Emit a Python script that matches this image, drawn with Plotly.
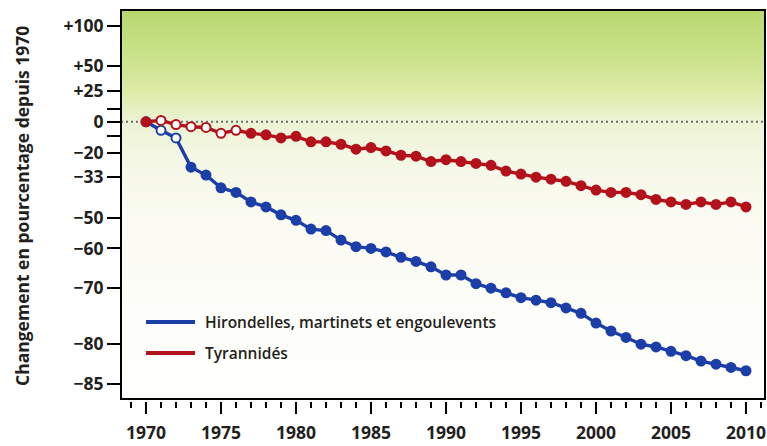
import math

import plotly.graph_objects as go

years = list(range(1970, 2011))

# percent change since 1970
hirondelles = [
    0, -6, -11, -28, -32, -38, -40, -44, -46, -49,
    -51, -54, -54.5, -57.5, -59.5, -60, -61, -62.5, -63.6, -65,
    -67, -67, -69, -70, -71, -72, -72.5, -73, -74, -75,
    -76.7, -78, -79, -80, -80.4, -81, -81.6, -82.3, -82.7, -83.1,
    -83.5,
]
tyrannides = [
    0, 1, -2, -3.5, -4, -8, -6, -8, -9, -11,
    -10, -13.5, -13.5, -15, -18, -17, -19, -21.5, -22, -25,
    -24, -25, -26, -27, -30, -31.5, -33, -34, -35, -37,
    -39, -40, -40, -41, -43, -44, -45, -44, -45, -44,
    -46,
]
# estimates before 1977 (open circles in the source)
hirondelles_open = [1971, 1972]
tyrannides_open = [1971, 1972, 1973, 1974, 1975, 1976]

tick_pct = [100, 50, 25, 10, 0, -10, -20, -33, -50, -60, -70, -80, -85]
tick_text = ["+100", "+50", "+25", "", "0", "", "−20", "−33", "−50", "−60", "−70", "−80", "−85"]

BLUE = "#1b3ea8"
RED = "#b3111b"
INK = "#231f20"
FONT = "Open Sans"

W, H = 767, 446
ML, MR, MT, MB = 121, 2, 10, 40
PW, PH = W - ML - MR, H - MT - MB
FRAME_BOTTOM = 399  # px


def ratio(p):
    return 1 + p / 100


def px_x(px):
    return (px - ML) / PW


def px_y(py):
    return (H - MB - py) / PH


y_lo, y_hi = math.log10(0.1345), math.log10(2.246)
y_dom0 = px_y(FRAME_BOTTOM)

fig = go.Figure()

for name, vals, opened, color in (
    ("Hirondelles, martinets et engoulevents", hirondelles, hirondelles_open, BLUE),
    ("Tyrannidés", tyrannides, tyrannides_open, RED),
):
    fig.add_trace(
        go.Scatter(
            x=years,
            y=[ratio(v) for v in vals],
            mode="lines+markers",
            name=name,
            line=dict(color=color, width=3.4),
            marker=dict(
                size=9,
                color=["white" if yr in opened else color for yr in years],
                line=dict(color=color, width=2),
            ),
            showlegend=False,
        )
    )

# background gradient (green above zero fading to white)
stops = [
    (0, (183, 215, 110)),
    (40, (199, 224, 134)),
    (80, (220, 235, 166)),
    (111, (236, 243, 212)),
    (150, (245, 247, 229)),
    (210, (251, 251, 242)),
    (300, (253, 253, 249)),
    (389, (254, 254, 252)),
]


def grad(p):
    for (a, ca), (b, cb) in zip(stops, stops[1:]):
        if a <= p <= b:
            t = (p - a) / (b - a)
            return "rgb(%d,%d,%d)" % tuple(round(ca[i] + (cb[i] - ca[i]) * t) for i in range(3))
    return "rgb(254,254,252)"


frame_h = 389
n = 97
shapes = []
for i in range(n):
    top = frame_h * i / n
    bot = frame_h * (i + 1) / n
    shapes.append(
        dict(
            type="rect", xref="x domain", yref="y domain", x0=0, x1=1,
            y0=1 - bot / frame_h - 0.002, y1=1 - top / frame_h,
            fillcolor=grad((top + bot) / 2), line=dict(width=0), layer="below",
        )
    )

zero_dom = (0 - y_lo) / (y_hi - y_lo)
shapes.append(
    dict(type="line", xref="x domain", yref="y domain", x0=0, x1=1, y0=zero_dom, y1=zero_dom,
         line=dict(color="#6d6d6d", width=2, dash="2px,3px"), layer="below")
)
shapes.append(
    dict(type="rect", xref="x domain", yref="y domain", x0=0, x1=1, y0=0, y1=1,
         line=dict(color="black", width=2), layer="above")
)

# legend
annotations = []
for py, color, label in ((322, BLUE, "Hirondelles, martinets et engoulevents"), (353, RED, "Tyrannidés")):
    shapes.append(
        dict(type="line", xref="paper", yref="paper", x0=px_x(146), x1=px_x(195),
             y0=px_y(py), y1=px_y(py), line=dict(color=color, width=4))
    )
    annotations.append(
        dict(xref="paper", yref="paper", x=px_x(203), y=px_y(py), text=label, showarrow=False,
             xanchor="left", yanchor="middle", font=dict(family=FONT, size=15.5, color=INK, weight=600))
    )

annotations.append(
    dict(xref="paper", yref="paper", x=px_x(22), y=px_y(206), text="Changement en pourcentage depuis 1970",
         textangle=-90, showarrow=False, xanchor="center", yanchor="middle",
         font=dict(family=FONT, size=17.5, color=INK, weight=700))
)

fig.update_layout(
    width=W,
    height=H,
    margin=dict(l=ML, r=MR, t=MT, b=MB, autoexpand=False),
    paper_bgcolor="white",
    plot_bgcolor="white",
    shapes=shapes,
    annotations=annotations,
    showlegend=False,
    font=dict(family=FONT, color=INK),
)
fig.update_xaxes(
    range=[1968.333, 2011.267],
    anchor="free",
    position=px_y(401),
    automargin=False,
    showline=False,
    showgrid=False,
    zeroline=False,
    tickmode="array",
    tickvals=list(range(1970, 2011, 5)),
    ticks="outside",
    ticklen=12,
    tickwidth=2,
    tickcolor="black",
    ticklabelstandoff=4,
    minor=dict(dtick=1, tick0=1970, ticks="outside", ticklen=6, tickwidth=1.5, tickcolor="black", showgrid=False),
    tickfont=dict(family=FONT, size=17.5, color=INK, weight=700),
)
fig.update_yaxes(
    type="log",
    range=[y_lo, y_hi],
    domain=[y_dom0, 1],
    automargin=False,
    showgrid=False,
    zeroline=False,
    showline=False,
    tickmode="array",
    tickvals=[ratio(p) for p in tick_pct],
    ticktext=tick_text,
    ticks="outside",
    ticklen=13,
    tickwidth=2,
    tickcolor="black",
    tickfont=dict(family=FONT, size=17.5, color=INK, weight=700),
)

fig.write_html(
    "out.html",
    config={"displayModeBar": False},
    post_script="document.body.style.margin='0';",
)
